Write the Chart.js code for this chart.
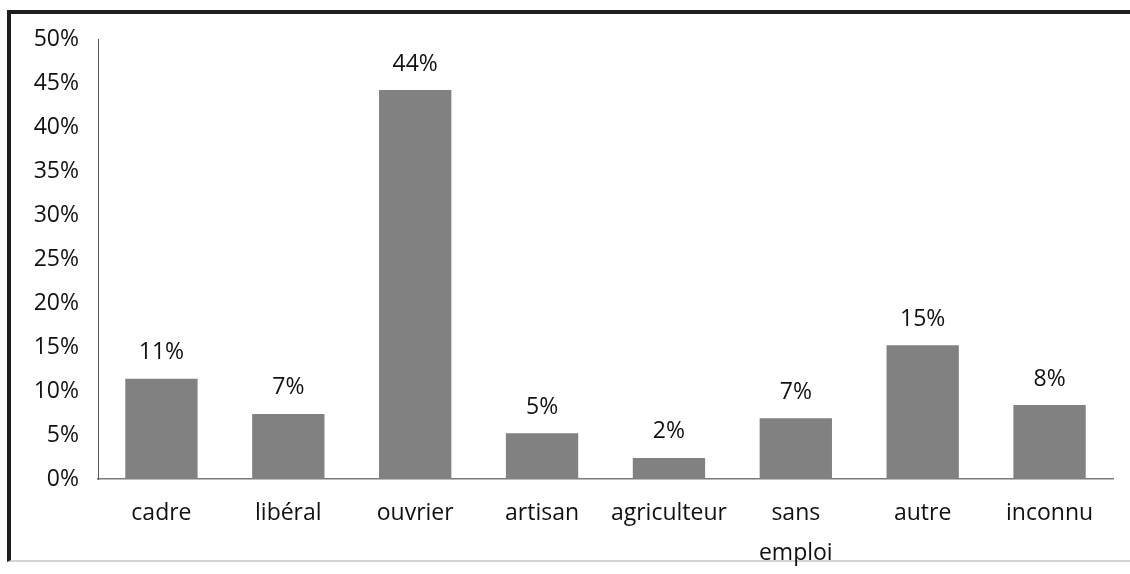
<!DOCTYPE html>
<html>
<head>
<meta charset="utf-8">
<script src="https://cdn.jsdelivr.net/npm/chart.js@4"></script>
<style>
  html, body { margin: 0; padding: 0; background: #fff; }
  #cadre {
    position: absolute; left: 7px; top: 10px; width: 1123px; height: 552px;
    border-left: 4px solid #1f1f1f; border-top: 4px solid #1f1f1f;
    border-bottom: 2px solid #d4d4d4; box-sizing: border-box;
  }
  #wrap { position: absolute; left: 0; top: 0; width: 1130px; height: 574px; }
</style>
</head>
<body>
<div id="cadre"></div>
<div id="wrap"><canvas id="chart" width="1130" height="574"></canvas></div>
<script>
const categories = ["cadre", "libéral", "ouvrier", "artisan", "agriculteur", ["sans", "emploi"], "autre", "inconnu"];
const valeurs = [11.4, 7.4, 44.2, 5.2, 2.4, 6.9, 15.2, 8.4];
const ticksY = [0, 5, 10, 15, 20, 25, 30, 35, 40, 45, 50];

const police = "'Open Sans', Lato, sans-serif";
const texteCouleur = "#111111";

const etiquettesPlugin = {
  id: "etiquettes",
  afterDatasetsDraw(chart) {
    const ctx = chart.ctx;
    const meta = chart.getDatasetMeta(0);
    ctx.save();
    ctx.font = "23px " + police;
    ctx.fillStyle = texteCouleur;
    ctx.textAlign = "center";
    ctx.textBaseline = "middle";
    meta.data.forEach((bar, i) => {
      ctx.fillText(Math.round(valeurs[i]) + "%", bar.x, bar.y - 26);
    });
    ctx.restore();
  }
};

new Chart(document.getElementById("chart"), {
  type: "bar",
  data: {
    labels: categories,
    datasets: [{
      data: valeurs,
      backgroundColor: "#818181",
      borderWidth: 0,
      barPercentage: 0.57,
      categoryPercentage: 1
    }]
  },
  options: {
    responsive: false,
    animation: false,
    layout: { padding: { top: 39, right: 17, left: 0, bottom: 0 } },
    plugins: { legend: { display: false }, tooltip: { enabled: false } },
    scales: {
      x: {
        grid: { display: false, drawTicks: false },
        border: { color: "#7a7a7a", width: 1.5 },
        ticks: {
          color: texteCouleur,
          font: { family: police, size: 23, lineHeight: 1.75 },
          padding: 14,
          maxRotation: 0,
          autoSkip: false
        },
        afterFit(scale) { scale.height = 95; }
      },
      y: {
        min: 0,
        max: 50,
        afterBuildTicks(scale) { scale.ticks = ticksY.map(v => ({ value: v })); },
        grid: { display: false, drawTicks: false },
        border: { color: "#555", width: 1 },
        ticks: {
          color: texteCouleur,
          font: { family: police, size: 23 },
          padding: 19,
          callback: v => v + "%"
        },
        afterFit(scale) { scale.width = 98; }
      }
    }
  },
  plugins: [etiquettesPlugin]
});
</script>
</body>
</html>
